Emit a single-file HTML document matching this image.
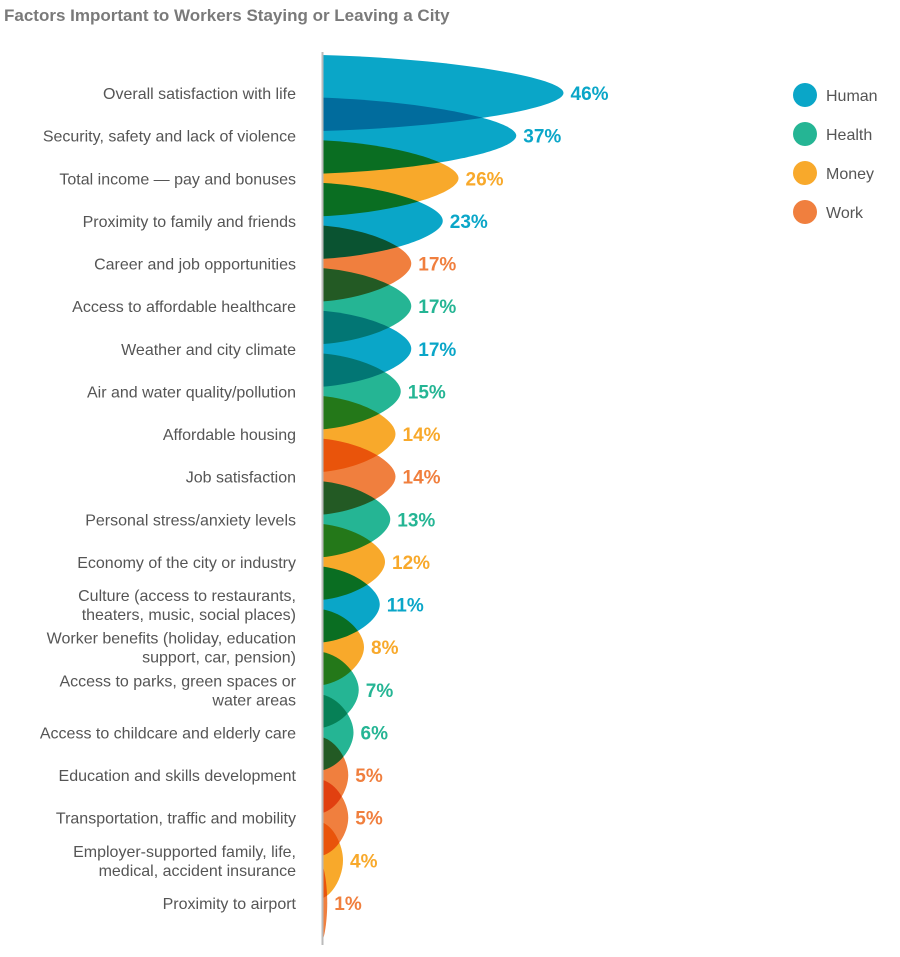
<!DOCTYPE html>
<html><head><meta charset="utf-8"><style>
body{margin:0;background:#fff;width:900px;height:952px;overflow:hidden;font-family:"Liberation Sans",sans-serif}
</style></head><body>
<svg width="900" height="952">
<text x="4" y="21" font-size="17" font-weight="bold" fill="#7a7a7a">Factors Important to Workers Staying or Leaving a City</text>
<g id="petals"></g>
<line x1="322.5" y1="52" x2="322.5" y2="945" stroke="#bbb" stroke-width="2"/>
<g id="labels"></g>
<g id="legend"></g>
</svg>
<script>
const categories=[["Overall satisfaction with life"],["Security, safety and lack of violence"],["Total income — pay and bonuses"],["Proximity to family and friends"],["Career and job opportunities"],["Access to affordable healthcare"],["Weather and city climate"],["Air and water quality/pollution"],["Affordable housing"],["Job satisfaction"],["Personal stress/anxiety levels"],["Economy of the city or industry"],["Culture (access to restaurants,","theaters, music, social places)"],["Worker benefits (holiday, education","support, car, pension)"],["Access to parks, green spaces or","water areas"],["Access to childcare and elderly care"],["Education and skills development"],["Transportation, traffic and mobility"],["Employer-supported family, life,","medical, accident insurance"],["Proximity to airport"]];
const values=[46,37,26,23,17,17,17,15,14,14,13,12,11,8,7,6,5,5,4,1];
const groups=["Human","Human","Money","Human","Work","Health","Human","Health","Money","Work","Health","Money","Human","Money","Health","Health","Work","Work","Money","Work"];
const legendItems=["Human","Health","Money","Work"];
const colors={Human:"#0aa6c8",Health:"#25b594",Money:"#f8a92b",Work:"#f07f3e"};
const NS="http://www.w3.org/2000/svg";
const x0=322, kx=5.25;
const xs=v=>x0+v*kx;
const ys=i=>93+i*42.63;
const pg=document.getElementById('petals'), lg=document.getElementById('labels'), leg=document.getElementById('legend');
values.forEach((v,i)=>{
  const c=ys(i), tip=xs(v), L=tip-x0, h=38;
  const p=document.createElementNS(NS,'path');
  p.setAttribute('d',`M${x0},${c-h} C${x0+L*0.55},${c-h*0.9} ${tip},${c-h*0.4} ${tip},${c} C${tip},${c+h*0.4} ${x0+L*0.55},${c+h*0.9} ${x0},${c+h} Z`);
  p.setAttribute('fill',colors[groups[i]]);
  p.setAttribute('style','mix-blend-mode:multiply');
  
  
  pg.appendChild(p);
  const t=document.createElementNS(NS,'text');
  t.setAttribute('x',tip+7);t.setAttribute('y',c+7);
  t.setAttribute('font-size','19');t.setAttribute('font-weight','bold');
  t.setAttribute('fill',colors[groups[i]]);
  t.textContent=v+'%';
  
  
  lg.appendChild(t);
  const lines=categories[i];
  lines.forEach((s,j)=>{
    const ct=document.createElementNS(NS,'text');
    ct.setAttribute('x',296);
    ct.setAttribute('y',c+6+(lines.length>1?(j-0.5)*19:0));
    ct.setAttribute('text-anchor','end');ct.setAttribute('font-size','16');ct.setAttribute('fill','#555');
    ct.textContent=s;
    
    
    lg.appendChild(ct);
  });
});
legendItems.forEach((n,i)=>{
  const y=99+i*39;
  const ci=document.createElementNS(NS,'circle');
  ci.setAttribute('cx',805);ci.setAttribute('cy',y-4);ci.setAttribute('r',12);ci.setAttribute('fill',colors[n]);
  
  
  leg.appendChild(ci);
  const t=document.createElementNS(NS,'text');
  t.setAttribute('x',826);t.setAttribute('y',y+2);t.setAttribute('font-size','16');t.setAttribute('fill','#555');
  t.textContent=n;
  
  
  leg.appendChild(t);
});
</script>
</body></html>
